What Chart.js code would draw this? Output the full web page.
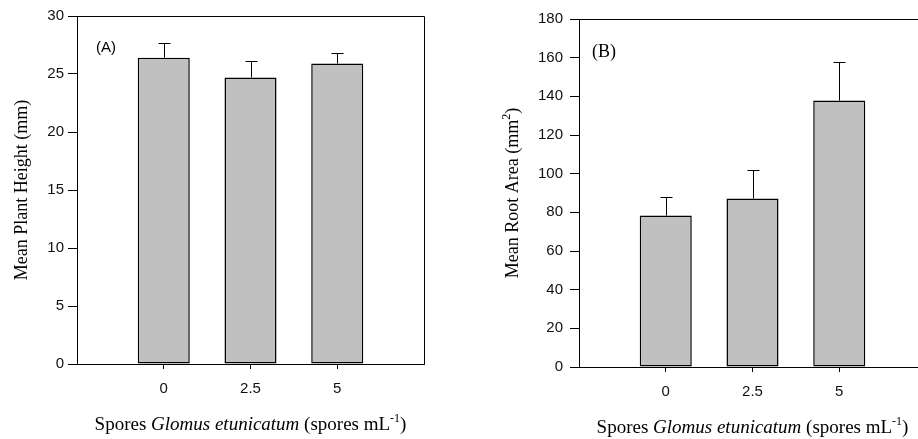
<!DOCTYPE html>
<html>
<head>
<meta charset="utf-8">
<script src="https://cdn.jsdelivr.net/npm/chart.js@4.4.1/dist/chart.umd.min.js"></script>
<style>
  html, body { margin: 0; padding: 0; background: #fff; overflow: hidden; }
  #wrap { position: relative; width: 918px; height: 439px; overflow: hidden; }
  canvas { position: absolute; top: 0; }
  #chartA { left: 0; }
  #chartB { left: 460px; }
</style>
</head>
<body>
<div id="wrap">
  <canvas id="chartA" width="460" height="439"></canvas>
  <canvas id="chartB" width="470" height="439"></canvas>
</div>
<script>
const doses = [0, 2.5, 5];
const doseLabels = ["0", "2.5", "5"];
const plantHeight = [26.4, 24.7, 25.9];
const plantHeightSE = [1.3, 1.4, 0.9];
const rootArea = [78.3, 87.2, 137.8];
const rootAreaSE = [9.4, 14.7, 19.9];

const SERIF = "'Liberation Serif', 'Times New Roman', serif";
const SANS = "'Liberation Sans', Arial, sans-serif";

// text made of several pieces in different fonts, centred on cx
function drawRich(ctx, parts, cx, cy) {
  let w = 0;
  parts.forEach((p) => {
    ctx.font = p.font;
    p.w = ctx.measureText(p.text).width;
    w += p.w;
  });
  let x = cx - w / 2;
  ctx.textAlign = "left";
  ctx.textBaseline = "alphabetic";
  parts.forEach((p) => {
    ctx.font = p.font;
    ctx.fillText(p.text, x, cy + (p.dy || 0));
    x += p.w;
  });
}

const xTitle = [
  { text: "Spores ", font: "19px " + SERIF },
  { text: "Glomus etunicatum", font: "italic 19px " + SERIF },
  { text: " (spores mL", font: "19px " + SERIF },
  { text: "-1", font: "12px " + SERIF, dy: -8 },
  { text: ")", font: "19px " + SERIF },
];

// error bars, frame, panel letter and axis titles
const extras = {
  id: "extras",
  afterDatasetsDraw(chart, args, o) {
    const { ctx, chartArea: a, scales: { x, y } } = chart;
    ctx.save();
    ctx.strokeStyle = "#000";
    ctx.lineWidth = 1;
    ctx.beginPath();
    o.values.forEach((v, i) => {
      const px = Math.round(x.getPixelForValue(doses[i])) + 0.5;
      const y0 = y.getPixelForValue(v);
      const y1 = Math.round(y.getPixelForValue(v + o.errors[i])) + 0.5;
      ctx.moveTo(px, y0);
      ctx.lineTo(px, y1);
      ctx.moveTo(px - 6, y1);
      ctx.lineTo(px + 6, y1);
    });
    ctx.moveTo(a.left, a.top + 0.5);
    ctx.lineTo(a.right + 0.5, a.top + 0.5);
    ctx.lineTo(a.right + 0.5, a.bottom);
    ctx.stroke();

    ctx.fillStyle = "#000";
    ctx.font = o.letterFont;
    ctx.textAlign = "left";
    ctx.textBaseline = "middle";
    ctx.fillText(o.letter, a.left + o.letterX, o.letterY);

    drawRich(ctx, xTitle, (a.left + a.right) / 2, o.xTitleY);

    ctx.translate(o.yTitleX, (a.top + a.bottom) / 2);
    ctx.rotate(-Math.PI / 2);
    drawRich(ctx, o.yTitle, 0, 6);
    ctx.restore();
  },
};

function makeChart(id, values, errors, o) {
  return new Chart(document.getElementById(id), {
    type: "bar",
    data: {
      datasets: [
        {
          data: doses.map((d, i) => ({ x: d, y: values[i] })),
          backgroundColor: "#c0c0c0",
          borderColor: "#000",
          borderWidth: 1.5,
          borderSkipped: false,
          barPercentage: 0.6,
          categoryPercentage: 1,
        },
      ],
    },
    options: {
      responsive: false,
      devicePixelRatio: 1,
      animation: false,
      layout: { padding: { top: o.top, right: o.right, bottom: 0, left: 0 } },
      plugins: {
        legend: { display: false },
        tooltip: { enabled: false },
        extras: { values: values, errors: errors, ...o },
      },
      scales: {
        x: {
          type: "linear",
          min: -2.5,
          max: 7.5,
          offset: false,
          afterBuildTicks: (s) => {
            s.ticks = doses.map((d) => ({ value: d }));
          },
          afterFit: (s) => {
            s.height = o.xHeight;
          },
          ticks: {
            callback: (v) => doseLabels[doses.indexOf(v)],
            font: { family: SANS, size: 15 },
            color: "#111",
            padding: 11,
            maxRotation: 0,
          },
          grid: { drawOnChartArea: false, tickLength: 5, color: "#000", offset: false },
          border: { color: "#000", width: 1 },
        },
        y: {
          min: 0,
          max: o.yMax,
          afterFit: (s) => {
            s.width = o.yWidth;
          },
          ticks: {
            stepSize: o.yStep,
            font: { family: SANS, size: 15 },
            color: "#111",
            padding: o.yPad,
          },
          grid: { drawOnChartArea: false, tickLength: 9, color: "#000" },
          border: { color: "#000", width: 1 },
        },
      },
    },
    plugins: [extras],
  });
}

makeChart("chartA", plantHeight, plantHeightSE, {
  top: 16, right: 36, xHeight: 75, yWidth: 77, yMax: 30, yStep: 5, yPad: 4,
  letter: "(A)", letterFont: "15px " + SANS, letterX: 19, letterY: 48,
  xTitleY: 430, yTitleX: 21,
  yTitle: [{ text: "Mean Plant Height (mm)", font: "18px " + SERIF }],
});

makeChart("chartB", rootArea, rootAreaSE, {
  top: 19, right: 4, xHeight: 72, yWidth: 119, yMax: 180, yStep: 20, yPad: 7,
  letter: "(B)", letterFont: "18px " + SERIF, letterX: 13, letterY: 52,
  xTitleY: 433, yTitleX: 52,
  yTitle: [
    { text: "Mean Root Area (mm", font: "18px " + SERIF },
    { text: "2", font: "12px " + SERIF, dy: -8 },
    { text: ")", font: "18px " + SERIF },
  ],
});
</script>
</body>
</html>
